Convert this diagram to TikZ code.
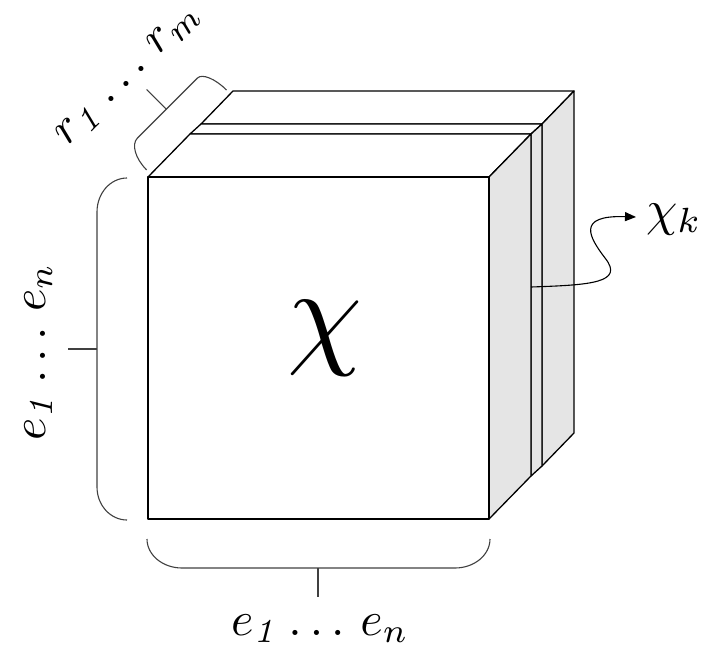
\documentclass[tikz,border=0pt]{standalone}
\usepackage{graphicx}
\usetikzlibrary{arrows.meta}
\newcommand\scmath[2]{\scalebox{#1}{$#2$}}
\tikzset{
  edge/.style={draw=black, line width=1.3pt, line join=round},
  topface/.style={edge, fill=white},
  sideface/.style={edge, fill=black!10},
  bracket/.style={draw=black!75, line width=1.1pt},
  lbl/.style={inner sep=0pt}
}
\begin{document}
\begin{tikzpicture}[x=1pt,y=-1pt]
\useasboundingbox (0,0) rectangle (707,646);
% back part (slice2 -> back)
\path[topface] (201,124) -- (233,91) -- (574,91) -- (542,124) -- cycle;
\path[sideface] (542,124) -- (574,91) -- (574,433) -- (542,466) -- cycle;
% slab X_k (slice1 -> slice2)
\path[topface] (190,134) -- (201,124) -- (542,124) -- (531,134) -- cycle;
\path[sideface] (531,134) -- (542,124) -- (542,466) -- (531,476) -- cycle;
% front part (front -> slice1)
\path[topface] (148,177) -- (190,134) -- (531,134) -- (489,177) -- cycle;
\path[sideface] (489,177) -- (531,134) -- (531,476) -- (489,519) -- cycle;
\path[edge, fill=white] (148,177) rectangle (489,519);

% central label
\node[lbl] (chi) at (325,338) {\scmath{12}{\chi}};

% bottom bracket
\draw[bracket] (147,539) .. controls (147,555) and (162.7,568) .. (182,568)
  -- (455,568) .. controls (474.3,568) and (490,555) .. (490,539);
\coordinate (bb) at (318,568);
\node[lbl, anchor=base] (bl) at (320,635) {\scmath{4.8}{e_{\mathit{1}}\ldots\,e_{n}}};
\draw[bracket] (bb) -- (bb |- 0,597);

% left bracket
\draw[bracket] (127,178) .. controls (110.4,178) and (97,193.2) .. (97,212)
  -- (97,487) .. controls (97,505.2) and (110.4,520) .. (127,520);
\coordinate (lb) at (97,349);
\node[lbl, anchor=base, rotate=90] (ll) at (45,352) {\scmath{4.8}{e_{\mathit{1}}\ldots\,e_{n}}};
\draw[bracket] (lb) -- (68,349);

% top bracket (along the depth edge)
\draw[bracket] (146.6,169.9) .. controls (135.3,158.6) and (131.2,144.3) .. (137.4,138.1)
  -- (197.5,78) .. controls (202.2,73.4) and (215.2,78.7) .. (226.5,90);
\coordinate (tb) at (166.4,109.2);
\node[lbl, anchor=base, rotate=45] (tl) at (134,80) {\scmath{4.8}{r_{\mathit{1}}\ldots\,r_{m}}};
\draw[bracket] (tb) -- (146.6,89.4);

% X_k label and wavy arrow
\coordinate (xs) at (531,287);
\node[anchor=west, inner xsep=10pt, inner ysep=0pt,
      text height=16pt, text depth=0pt] (xk) at (636,217) {\scmath{5}{\chi_{k}}};
\draw[line width=1.1pt, -{Triangle[length=11pt,width=9pt]}]
  (xs) .. controls (590,285) and (625,283) .. (605,258)
  .. controls (590,238) and (575,215) .. (xk.west);
\end{tikzpicture}
\end{document}
